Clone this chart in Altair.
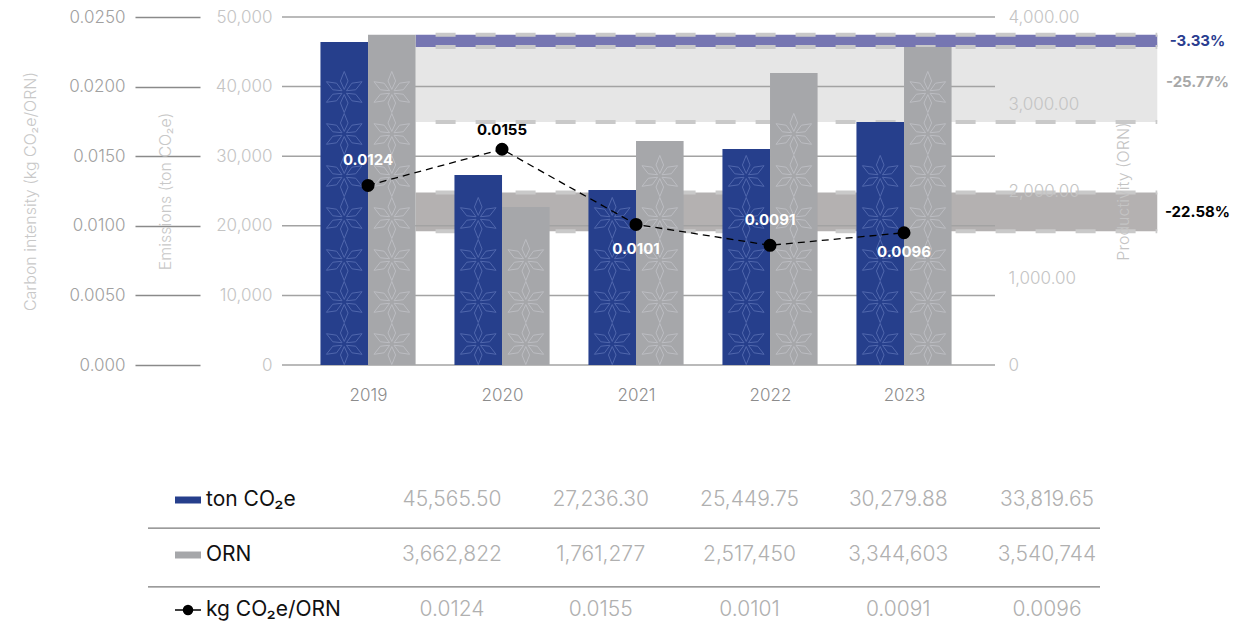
import math
import altair as alt
import pandas as pd

# ---------------- data ----------------
years = [2019, 2020, 2021, 2022, 2023]
emissions = [46400, 27300, 25150, 31030, 34900]      # bar heights, ton CO2e
productivity = [3795, 1816, 2575, 3356, 3655]        # bar heights, ORN (thousands)
intensity = [0.0129, 0.0155, 0.0101, 0.0086, 0.0095]  # point positions
intensity_labels = ["0.0124", "0.0155", "0.0101", "0.0091", "0.0096"]
intensity_band = [0.0124, 0.0096]
band_change = ["-3.33%", "-25.77%", "-22.58%"]

emission_ticks = [0, 10000, 20000, 30000, 40000, 50000]
intensity_ticks = [0, 0.005, 0.01, 0.015, 0.02, 0.025]
productivity_ticks = [0, 1000, 2000, 3000, 4000]

row_names = ["ton CO₂e", "ORN", "kg CO₂e/ORN"]
table_emissions = ["45,565.50", "27,236.30", "25,449.75", "30,279.88", "33,819.65"]
table_orn = ["3,662,822", "1,761,277", "2,517,450", "3,344,603", "3,540,744"]
table_intensity = ["0.0124", "0.0155", "0.0101", "0.0091", "0.0096"]

# ---------------- style ----------------
FONT = "Inter"
BLUE = "#263f8c"
GREY_BAR = "#a6a7aa"
W, H = 713, 348
X_DOM = [2018.358, 2023.679]
BAR_W = 0.355
BAND_X0 = years[0] + BAR_W
BAND_X1 = 2024.89
PCT_X = 2025.19
EM_DOM = [0, 50000]
INT_DOM = [0, 0.025]
PR_DOM = [0, 4000]
LABEL_DY = [-25, -19, 25, -25, 19]
LABEL_COLOR = ["white", "black", "white", "white", "white"]
SEP_ROWS = [0.51, 1.58]
STAR_STEP = 42  # px, decorative fill pattern spacing


def xs():
    return alt.Scale(domain=X_DOM, nice=False, zero=False)


def ys(dom):
    return alt.Scale(domain=dom, nice=False, zero=False)


def star_path():
    parts = []
    for a in range(90, 450, 60):
        pts = [(0.12, a), (0.55, a + 19), (0.97, a), (0.55, a - 19)]
        xy = [(r * math.cos(math.radians(t)), -r * math.sin(math.radians(t))) for r, t in pts]
        parts.append("M" + " L".join(f"{x:.3f},{y:.3f}" for x, y in xy) + " Z")
    return " ".join(parts)


layers = []


def band(lo, hi, dom, color, edges, label, label_color):
    df = pd.DataFrame({"x": [BAND_X0], "x2": [BAND_X1], "y": [lo], "y2": [hi]})
    rect = alt.Chart(df).mark_rect(color=color).encode(
        x=alt.X("x:Q", scale=xs(), axis=None), x2="x2:Q",
        y=alt.Y("y:Q", scale=ys(dom), axis=None), y2="y2:Q")
    edf = pd.DataFrame({"x": [BAND_X0] * len(edges), "x2": [BAND_X1] * len(edges), "y": edges})
    rules = alt.Chart(edf).mark_rule(color="#c9c9c9", strokeWidth=4, strokeDash=[20, 20],
                                     strokeDashOffset=20).encode(
        x=alt.X("x:Q", scale=xs(), axis=None), x2="x2:Q",
        y=alt.Y("y:Q", scale=ys(dom), axis=None))
    tdf = pd.DataFrame({"x": [PCT_X], "y": [(lo + hi) / 2], "t": [label]})
    text = alt.Chart(tdf).mark_text(font=FONT, fontSize=15, fontWeight=700, color=label_color,
                                    align="center", baseline="middle").encode(
        x=alt.X("x:Q", scale=xs(), axis=None),
        y=alt.Y("y:Q", scale=ys(dom), axis=None), text="t:N")
    return [rect, rules, text]


layers += band(emissions[-1], emissions[0], EM_DOM, "#e6e6e6", [emissions[-1]],
               band_change[1], "#a8a8a8")
layers += band(productivity[-1], productivity[0], PR_DOM, "#7676b2",
               [productivity[-1], productivity[0]], band_change[0], "#2a3d8f")
layers += band(intensity_band[1], intensity_band[0], INT_DOM, "#b4b1b1",
               intensity_band, band_change[2], "black")

# grid lines (emissions ticks)
grid = alt.Chart(pd.DataFrame({"v": emission_ticks})).mark_rule(color="#a3a3a3", strokeWidth=1.5).encode(
    y=alt.Y("v:Q", scale=ys(EM_DOM), axis=None))
layers.append(grid)

bars = pd.DataFrame({"year": years, "em": emissions, "pr": productivity})
bars["e0"] = bars["year"] - BAR_W
bars["p1"] = bars["year"] + BAR_W

em_bars = alt.Chart(bars).mark_rect(color=BLUE).encode(
    x=alt.X("e0:Q", scale=xs(), axis=alt.Axis(
        values=years, format="d", title=None, domain=False, ticks=False, grid=False,
        labelFont=FONT, labelFontSize=17, labelFontWeight=300, labelColor="#8c8c8c",
        labelPadding=22)),
    x2="year:Q",
    y=alt.Y("em:Q", scale=ys(EM_DOM), axis=alt.Axis(
        orient="left", values=emission_ticks, format=",d", domain=False, ticks=False, tickSize=0,
        grid=False, labelFont=FONT, labelFontSize=17, labelFontWeight=300, labelColor="#c4c4c4",
        labelPadding=10, title="Emissions (ton CO₂e)", titleFont=FONT, titleFontSize=16,
        titleFontWeight=300, titleColor="#c8c8c8", titlePadding=42, zindex=1)),
    y2=alt.datum(0))
layers.append(em_bars)

pr_bars = alt.Chart(bars).mark_rect(color=GREY_BAR).encode(
    x=alt.X("year:Q", scale=xs(), axis=None),
    x2="p1:Q",
    y=alt.Y("pr:Q", scale=ys(PR_DOM), axis=alt.Axis(
        orient="right", values=productivity_ticks,
        labelExpr="datum.value == 0 ? '0' : format(datum.value, ',.2f')",
        domain=False, ticks=False,
        tickSize=0, grid=False, labelFont=FONT, labelFontSize=17, labelFontWeight=300,
        labelColor="#c4c4c4", labelPadding=13, title="Productivity (ORN)", titleFont=FONT,
        titleFontSize=16, titleFontWeight=300, titleColor="#c4c4c4", titlePadding=36,
        titleAngle=270, titleBaseline="top", zindex=1)),
    y2=alt.datum(0))
layers.append(pr_bars)

# decorative star fill pattern inside the bars
STAR = star_path()


def star_layer(values, dom, x_off, color):
    rows = []
    for yr, v in zip(years, values):
        hpx = v / dom[1] * H
        c = STAR_STEP / 2
        while c + STAR_STEP / 2 - 2 <= hpx:
            rows.append({"x": yr + x_off, "y": c / H * dom[1]})
            c += STAR_STEP
    return alt.Chart(pd.DataFrame(rows)).mark_point(
        shape=STAR, size=1800, filled=False, stroke=color, strokeWidth=1, opacity=1).encode(
        x=alt.X("x:Q", scale=xs(), axis=None), y=alt.Y("y:Q", scale=ys(dom), axis=None))


layers.append(star_layer(emissions, EM_DOM, -BAR_W / 2, "#5067ad"))
layers.append(star_layer(productivity, PR_DOM, BAR_W / 2, "#bcbdc2"))

ints = pd.DataFrame({"year": years, "v": intensity, "t": intensity_labels})
line = alt.Chart(ints).mark_line(color="black", strokeWidth=1.3, strokeDash=[7, 5]).encode(
    x=alt.X("year:Q", scale=xs(), axis=None),
    y=alt.Y("v:Q", scale=ys(INT_DOM), axis=alt.Axis(
        orient="left", offset=82, values=intensity_ticks,
        labelExpr="datum.value == 0 ? '0.000' : format(datum.value, '.4f')",
        domain=False, grid=False, ticks=True, tickSize=65, tickColor="#8a8a8a", tickWidth=1.5,
        labelFont=FONT, labelFontSize=17, labelFontWeight=300, labelColor="#a0a0a0",
        labelPadding=10, title="Carbon intensity (kg CO₂e/ORN)", titleFont=FONT,
        titleFontSize=16, titleFontWeight=300, titleColor="#c8c8c8", titlePadding=30)))
layers.append(line)
pts = alt.Chart(ints).mark_circle(color="black", opacity=1, size=170).encode(
    x=alt.X("year:Q", scale=xs(), axis=None),
    y=alt.Y("v:Q", scale=ys(INT_DOM), axis=None))
layers.append(pts)
for i in range(len(years)):
    lab = alt.Chart(ints.iloc[[i]]).mark_text(
        font=FONT, fontSize=15, fontWeight=700, color=LABEL_COLOR[i], dy=LABEL_DY[i],
        align="center", baseline="middle").encode(
        x=alt.X("year:Q", scale=xs(), axis=None),
        y=alt.Y("v:Q", scale=ys(INT_DOM), axis=None), text="t:N")
    layers.append(lab)

# ---------------- table below ----------------
TX = alt.Scale(domain=[0, 4], range=[170, 765])
TY = alt.Scale(domain=[0, 2], range=[483, 593])
cells = []
for r, vals in enumerate([table_emissions, table_orn, table_intensity]):
    for c, v in enumerate(vals):
        cells.append({"r": r, "c": c, "t": v})
cells = pd.DataFrame(cells)
table_vals = alt.Chart(cells).mark_text(font=FONT, fontSize=21, fontWeight=300, color="#b0b0b0",
                                       align="center", baseline="middle").encode(
    x=alt.X("c:Q", scale=TX, axis=None), y=alt.Y("r:Q", scale=TY, axis=None), text="t:N")
layers.append(table_vals)

names = pd.DataFrame({"r": [0, 1, 2], "t": row_names})
table_names = alt.Chart(names).mark_text(font=FONT, fontSize=21, fontWeight=400, color="#111111",
                                        align="left", baseline="middle").encode(
    x=alt.value(-76), y=alt.Y("r:Q", scale=TY, axis=None), text="t:N")
layers.append(table_names)

sw = pd.DataFrame({"r": [0, 1], "col": [BLUE, GREY_BAR]})
swatch = alt.Chart(sw).mark_rule(strokeWidth=7).encode(
    x=alt.value(-107), x2=alt.value(-81), y=alt.Y("r:Q", scale=TY, axis=None),
    color=alt.Color("col:N", scale=None))
layers.append(swatch)
sym = pd.DataFrame({"r": [2]})
sym_line = alt.Chart(sym).mark_rule(color="black", strokeWidth=1.5).encode(
    x=alt.value(-107), x2=alt.value(-81), y=alt.Y("r:Q", scale=TY, axis=None))
sym_pt = alt.Chart(sym).mark_circle(color="black", opacity=1, size=110).encode(
    x=alt.value(-94), y=alt.Y("r:Q", scale=TY, axis=None))
layers += [sym_line, sym_pt]

seps = pd.DataFrame({"r": SEP_ROWS})
sep = alt.Chart(seps).mark_rule(color="#7a7a7a", strokeWidth=1.2).encode(
    x=alt.value(-134), x2=alt.value(818), y=alt.Y("r:Q", scale=TY, axis=None))
layers.append(sep)

chart = alt.layer(*layers).resolve_scale(x="independent", y="independent").properties(
    width=W, height=H,
    autosize=alt.AutoSizeParams(type="none"),
    padding={"left": 274, "top": 9, "right": 239, "bottom": 256},
    background="white",
).configure_view(stroke=None)

chart.save("out.html", embed_options={"renderer": "svg", "actions": False})
